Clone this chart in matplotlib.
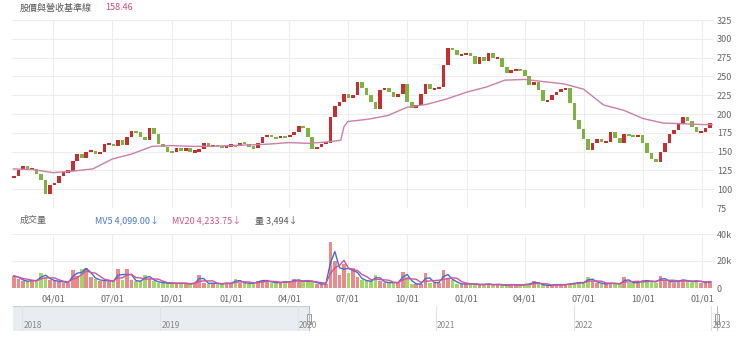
import numpy as np
import pandas as pd
import matplotlib
matplotlib.use("Agg")
import matplotlib.pyplot as plt
import matplotlib.dates as mdates
from matplotlib.patches import Rectangle

plt.rcParams['font.family'] = ['Noto Sans CJK TC', 'DejaVu Sans']

# weekly closes (one value per week, Fridays)
first_open = 115
close = [117, 125, 131, 126, 127, 120, 112, 94, 105, 108,
         118, 123, 124, 138, 147, 142, 150, 151, 147, 150,
         160, 160, 158, 165, 159, 170, 177, 176, 170, 166,
         182, 174, 160, 156, 150, 149, 155, 151, 155, 150,
         150, 154, 161, 157, 158, 157, 155, 158, 158, 157,
         162, 160, 156, 155, 161, 169, 172, 169, 168, 170,
         169, 172, 176, 184, 182, 170, 153, 156, 160, 162,
         196, 211, 216, 227, 221, 225, 243, 234, 225, 216,
         207, 232, 235, 229, 223, 227, 240, 216, 208, 212,
         226, 240, 233, 233, 236, 265, 288, 285, 278, 279,
         281, 277, 266, 276, 270, 281, 274, 275, 262, 254,
         258, 260, 258, 250, 238, 242, 232, 217, 218, 225,
         229, 233, 234, 214, 192, 180, 167, 152, 161, 167,
         163, 163, 176, 168, 161, 174, 171, 170, 172, 161,
         148, 140, 136, 150, 162, 173, 179, 187, 196, 191,
         183, 176, 176, 182, 188]

# volume (thousand lots), same weeks
volume_k = [9, 7, 5, 5, 6, 5, 11, 8, 6, 5,
            5, 4, 4, 13, 9, 14, 15, 8, 7, 5,
            6, 5, 5, 14, 6, 14, 6, 5, 5, 10,
            7, 5, 4, 4, 3, 4, 3, 4, 3, 3,
            4, 10, 4, 3, 4, 3, 3, 4, 3, 7,
            4, 4, 3, 4, 5, 6, 5, 4, 4, 4,
            5, 4, 7, 5, 5, 5, 5, 3, 3, 3,
            34, 20, 10, 18, 11, 15, 8, 6, 5, 5,
            10, 5, 4, 4, 4, 4, 12, 8, 3, 3,
            3, 11, 4, 4, 4, 13, 7, 6, 3, 3,
            3, 3, 3, 2, 3, 3, 2, 3, 2, 2,
            3, 2, 2, 3, 3, 5, 3, 2, 2, 2,
            3, 2, 3, 3, 4, 4, 4, 8, 5, 4,
            3, 3, 4, 3, 3, 8, 4, 4, 4, 6,
            5, 5, 4, 9, 5, 5, 4, 6, 6, 5,
            4, 6, 4, 4, 5]

# revenue baseline (pink line)
base_dates = ['2020-01-30', '2020-03-01', '2020-04-01', '2020-05-01', '2020-06-01',
              '2020-07-01', '2020-08-01', '2020-09-01', '2020-10-01', '2020-11-01',
              '2020-12-01', '2021-01-01', '2021-02-01', '2021-03-01', '2021-04-01',
              '2021-05-01', '2021-06-01', '2021-06-20', '2021-06-25', '2021-07-01',
              '2021-08-01', '2021-09-01', '2021-10-01', '2021-11-01', '2021-12-01',
              '2022-01-01', '2022-02-01', '2022-03-01', '2022-04-01', '2022-05-01',
              '2022-06-01', '2022-07-01', '2022-08-01', '2022-09-01', '2022-10-01',
              '2022-11-01', '2022-12-01', '2023-01-01', '2023-01-16']
base_vals = [127, 126, 122, 124, 127, 140, 147, 157, 158, 157,
             157, 158, 159, 160, 162, 161, 163, 165, 183, 190,
             193, 198, 209, 213, 220, 229, 236, 245, 246, 243,
             240, 233, 212, 205, 194, 188, 187, 186, 186]

dates = pd.date_range('2020-01-31', periods=len(close), freq='7D')
close = np.array(close, dtype=float)
opens = np.r_[first_open, close[:-1]]
vol = np.array(volume_k, dtype=float) * 1000
up = close >= opens
red, green = '#c62f2f', '#7cb342'
cols = np.where(up, red, green)
vcols = np.where(up, '#ea8a8a', '#a5d46a')

fig = plt.figure(figsize=(7.4, 3.43), dpi=100)
W, H = 740, 343
ax = fig.add_axes([12 / W, (H - 208) / H, 702 / W, 188 / H])
axv = fig.add_axes([12 / W, (H - 288) / H, 702 / W, 54 / H])
axn = fig.add_axes([13 / W, (H - 331) / H, 722 / W, 25 / H])

x0, x1 = pd.Timestamp('2020-01-28'), pd.Timestamp('2023-01-19')
quarters = pd.date_range('2020-04-01', '2023-01-01', freq='QS')

# price panel
body = np.abs(close - opens)
body = np.where(body < 3, 3, body)
ax.bar(dates, body, bottom=np.minimum(close, opens) - (body - np.abs(close - opens)) / 2,
       width=5.6, color=cols, linewidth=0)
ax.plot(pd.to_datetime(base_dates), base_vals, color='#cc7fa8', lw=1)
ax.set_ylim(75, 325)
ax.set_yticks(range(75, 326, 25))

# volume panel
axv.bar(dates, vol, width=5.6, color=vcols, linewidth=0)
vs = pd.Series(vol)
axv.plot(dates, vs.rolling(2, min_periods=1).mean(), color='#3d6fd6', lw=1)
axv.plot(dates, vs.rolling(4, min_periods=1).mean(), color='#d0559a', lw=1)
axv.set_ylim(0, 40000)
axv.set_yticks([0, 20000, 40000])
axv.set_yticklabels(['0', '20k', '40k'])

for a in (ax, axv):
    a.set_xlim(x0, x1)
    a.set_xticks(quarters)
    a.xaxis.set_major_formatter(mdates.DateFormatter('%m/%d'))
    a.yaxis.tick_right()
    a.grid(True, color='#ededed', lw=0.8)
    a.set_axisbelow(True)
    a.tick_params(length=0, labelsize=6.5, colors='#666666', pad=2)
    for s in a.spines.values():
        s.set_visible(False)
ax.tick_params(labelbottom=False)
axv.tick_params(axis='x', pad=5)

# navigator
n0, n1 = pd.Timestamp('2017-12-07'), pd.Timestamp('2023-03-05')
s0, s1 = pd.Timestamp('2020-01-30'), pd.Timestamp('2023-01-16')
axn.set_xlim(n0, n1)
axn.set_ylim(0, 1)
axn.set_xticks([])
axn.set_yticks([])
for s in axn.spines.values():
    s.set_visible(False)
axn.axvspan(n0, s0, color='#e9ecf0', lw=0)
axn.plot([n0, s0], [1, 1], color='#c8ccd2', lw=0.8)
axn.plot([s0, n1], [0, 0], color='#c8ccd2', lw=0.8)
for y in range(2018, 2024):
    d = pd.Timestamp(f'{y}-01-01')
    axn.axvline(d, color='#dfe2e6', lw=0.8)
    axn.text(d + pd.Timedelta(days=3), 0.22, str(y), fontsize=6,
             color='#888888', va='center', ha='left')
for d in (s0, s1):
    axn.plot([d, d], [0, 1], color='#b5b9bf', lw=0.7)
    axn.add_patch(Rectangle((mdates.date2num(d) - 5, 0.3), 10, 0.4,
                            facecolor='#f4f4f4', edgecolor='#999999', lw=0.7))

# header texts
fs = 6.5
fig.text(20 / W, 1 - 8 / H, '股價與營收基準線', fontsize=fs, color='#555555', va='center')
fig.text(105 / W, 1 - 8 / H, '158.46', fontsize=fs, color='#d0497f', va='center')
fig.text(20 / W, 1 - 220 / H, '成交量', fontsize=fs, color='#666666', va='center')
fig.text(95 / W, 1 - 220 / H, 'MV5 4,099.00↓', fontsize=fs, color='#4a78d0', va='center')
fig.text(172 / W, 1 - 220 / H, 'MV20 4,233.75↓', fontsize=fs, color='#d0557f', va='center')
fig.text(255 / W, 1 - 220 / H, '量 3,494↓', fontsize=fs, color='#555555', va='center')

fig.savefig('out.png', dpi=100)
